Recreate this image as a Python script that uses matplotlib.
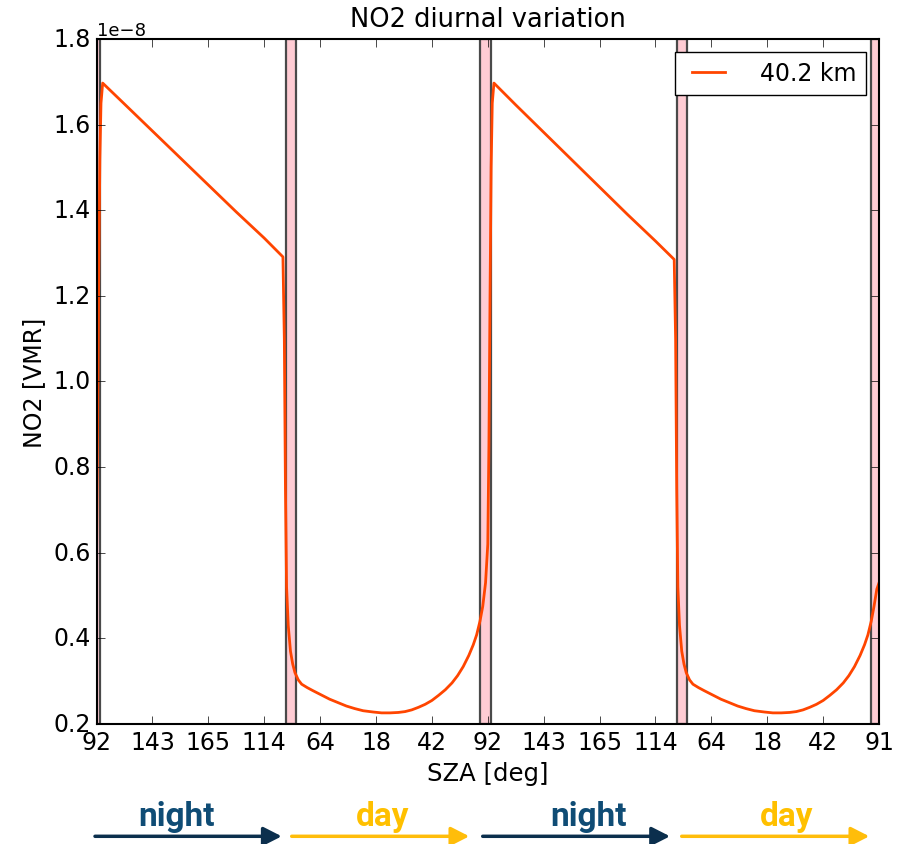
import numpy as np
import matplotlib
matplotlib.use('Agg')
import matplotlib.pyplot as plt

# model time axis (tick units), NO2 in units of 1e-8 VMR
t = [0.00, 0.02, 0.04, 0.06, 0.08, 0.11, 0.50, 1.00, 1.50, 2.00, 2.50, 3.00, 3.335,
     3.36, 3.38, 3.40, 3.43, 3.47, 3.51, 3.55, 3.61, 3.67, 3.77, 3.87, 4.02, 4.17,
     4.32, 4.47, 4.62, 4.77, 4.95, 5.10, 5.25, 5.40, 5.52, 5.64, 5.76, 5.88, 6.00,
     6.12, 6.24, 6.36, 6.46, 6.56, 6.66, 6.74, 6.80, 6.86, 6.91, 6.96,
     7.00, 7.02, 7.04, 7.06, 7.08, 7.11, 7.50, 8.00, 8.50, 9.00, 9.50, 10.00, 10.335,
     10.36, 10.38, 10.40, 10.43, 10.47, 10.51, 10.55, 10.61, 10.67, 10.77, 10.87, 11.02, 11.17,
     11.32, 11.47, 11.62, 11.77, 11.95, 12.10, 12.25, 12.40, 12.52, 12.64, 12.76, 12.88, 13.00,
     13.12, 13.24, 13.36, 13.46, 13.56, 13.66, 13.74, 13.80, 13.86, 13.91, 13.96, 14.00]
no2 = [0.58, 0.90, 1.25, 1.52, 1.65, 1.697, 1.648, 1.585, 1.522, 1.459, 1.396, 1.335, 1.291,
       1.10, 0.75, 0.52, 0.43, 0.37, 0.34, 0.32, 0.303, 0.293, 0.285, 0.278, 0.268, 0.258,
       0.250, 0.242, 0.236, 0.231, 0.228, 0.226, 0.226, 0.227, 0.229, 0.233, 0.239, 0.246, 0.255,
       0.267, 0.280, 0.296, 0.313, 0.334, 0.360, 0.385, 0.408, 0.44, 0.475, 0.53,
       0.62, 0.85, 1.20, 1.50, 1.65, 1.697, 1.646, 1.582, 1.518, 1.454, 1.390, 1.328, 1.285,
       1.10, 0.75, 0.52, 0.43, 0.37, 0.34, 0.32, 0.303, 0.293, 0.285, 0.278, 0.268, 0.258,
       0.250, 0.242, 0.236, 0.231, 0.228, 0.226, 0.226, 0.227, 0.229, 0.233, 0.239, 0.246, 0.255,
       0.267, 0.280, 0.296, 0.313, 0.334, 0.360, 0.385, 0.408, 0.44, 0.475, 0.515, 0.53]

tick_pos = list(range(15))
sza_labels = ['92', '143', '165', '114', '64', '18', '42', '92',
              '143', '165', '114', '64', '18', '42', '91']

# twilight periods (start, end) in tick units
twilight = [(-0.05, 0.06), (3.39, 3.57), (6.86, 7.05), (10.39, 10.57), (13.86, 14.05)]

phases = ['night', 'day', 'night', 'day']

plt.style.use('classic')
plt.rcParams['figure.facecolor'] = 'white'
plt.rcParams['savefig.facecolor'] = 'white'
plt.rcParams['xtick.major.size'] = 6
plt.rcParams['ytick.major.size'] = 6
plt.rcParams['axes.linewidth'] = 1.5

fig = plt.figure(figsize=(8.97, 8.45), dpi=100)
ax = fig.add_axes([0.1076, 0.142, 0.8724, 0.8107])

for a, b in twilight:
    ax.axvspan(a, b, facecolor='#ffccd4', edgecolor='#4a4a4a', lw=1.6)

ax.plot(t, np.array(no2) * 1e-8, color='orangered', lw=2, label='40.2 km')

ax.set_xlim(0, 14)
ax.set_ylim(0.2e-8, 1.8e-8)
ax.set_xticks(tick_pos)
ax.set_xticklabels(sza_labels)
ax.tick_params(labelsize=17)
ax.yaxis.get_offset_text().set_fontsize(13)

#format plot
ax.set_title('NO2 diurnal variation', fontsize=18.5, pad=9)
ax.set_xlabel('SZA [deg]', fontsize=17.5)
ax.set_ylabel('NO2 [VMR]', fontsize=17)
ax.legend(loc='upper right', fontsize=17, handletextpad=1.2, borderaxespad=0.55)

# night / day arrows underneath
arrow_spans = [(95, 281.7), (291.7, 469.3), (482.7, 670), (681.7, 869.3)]
text_x = [176.7, 383, 589, 786.7]
colors = {'night': ('#0f4c75', '#0b2f4d'), 'day': ('#ffc000', '#ffbd0a')}
W, H = 897.0, 845.0
for p, (x0, x1), tx in zip(phases, arrow_spans, text_x):
    tc, ac = colors[p]
    fig.text(tx / W, 1 - 826 / H, p, color=tc, fontsize=24, fontweight='bold',
             family='Roboto', ha='center', va='baseline')
    ax.annotate('', xy=(x1 / W, 1 - 837.3 / H), xytext=(x0 / W, 1 - 837.3 / H),
                xycoords='figure fraction', textcoords='figure fraction',
                arrowprops=dict(arrowstyle='-|>,head_length=0.55,head_width=0.28',
                                mutation_scale=20, lw=2.5, color=ac,
                                shrinkA=0, shrinkB=0))

plt.savefig('out.png', dpi=100)
